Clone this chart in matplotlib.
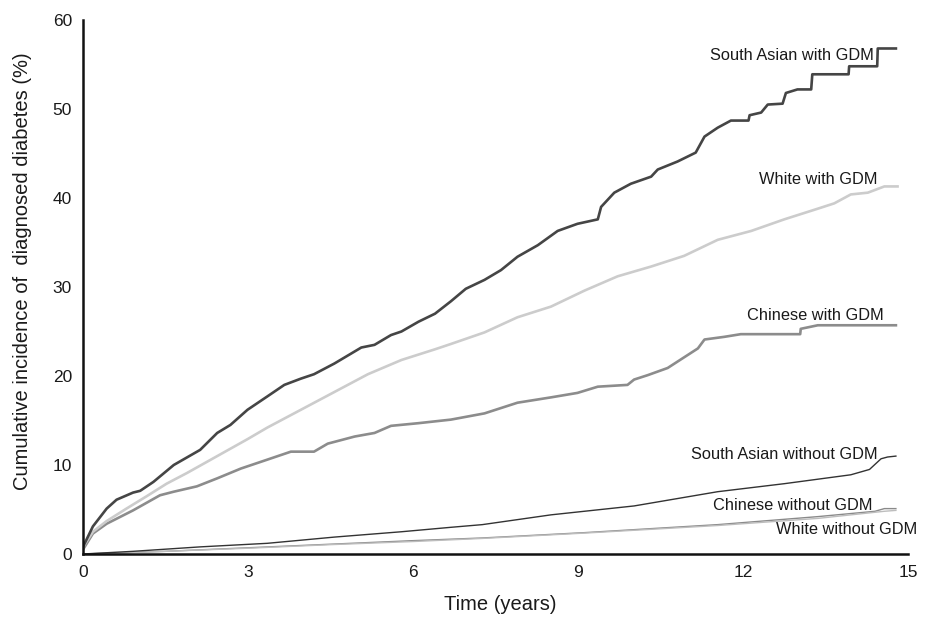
import matplotlib
matplotlib.use("Agg")
import matplotlib.pyplot as plt

plt.rcParams['font.family'] = ['Liberation Sans', 'DejaVu Sans']

# ---- data ----
sa_gdm_t = [0, 0.18, 0.43, 0.61, 0.91, 1.04, 1.28, 1.65, 2.13, 2.44, 2.68, 2.99, 3.35, 3.66, 3.96,
            4.2, 4.57, 5.06, 5.3, 5.6, 5.79, 6.1, 6.4, 6.69, 6.96, 7.3, 7.6, 7.9, 8.27, 8.63, 8.99,
            9.36, 9.42, 9.66, 9.96, 10.33, 10.45, 10.81, 11.14, 11.3, 11.54, 11.78, 12.1, 12.12, 12.33,
            12.45, 12.72, 12.78, 12.99, 13.24, 13.26, 13.92, 13.93, 14.44, 14.45, 14.78]
sa_gdm_v = [0.8, 3.1, 5.1, 6.1, 6.9, 7.1, 8.1, 10.0, 11.7, 13.6, 14.5, 16.2, 17.7, 19.0, 19.7,
            20.2, 21.4, 23.2, 23.5, 24.6, 25.0, 26.1, 27.0, 28.4, 29.8, 30.8, 31.9, 33.4, 34.7, 36.3, 37.1,
            37.6, 39.0, 40.6, 41.6, 42.4, 43.2, 44.1, 45.1, 46.9, 47.9, 48.7, 48.7, 49.3, 49.6,
            50.5, 50.6, 51.8, 52.2, 52.2, 53.9, 53.9, 54.8, 54.8, 56.8, 56.8]

wh_gdm_t = [0, 0.18, 0.43, 0.79, 1.16, 1.52, 1.89, 2.44, 2.99, 3.35, 3.96, 4.57, 5.18, 5.79, 6.4,
            6.69, 7.3, 7.9, 8.51, 9.12, 9.72, 10.33, 10.93, 11.54, 12.15, 12.75, 13.36, 13.66, 13.96,
            14.27, 14.57, 14.81]
wh_gdm_v = [0.8, 2.5, 3.7, 5.1, 6.5, 7.9, 9.1, 11.0, 12.9, 14.2, 16.2, 18.2, 20.2, 21.8, 23.0,
            23.6, 24.9, 26.6, 27.8, 29.6, 31.2, 32.3, 33.5, 35.3, 36.3, 37.6, 38.8, 39.4, 40.4,
            40.6, 41.3, 41.3]

ch_gdm_t = [0, 0.18, 0.43, 0.91, 1.4, 1.65, 2.07, 2.44, 2.87, 3.35, 3.78, 4.2, 4.45, 4.94, 5.3,
            5.6, 6.1, 6.69, 7.3, 7.9, 8.51, 8.99, 9.36, 9.9, 10.02, 10.27, 10.63, 10.93, 11.18,
            11.3, 11.66, 11.96, 13.04, 13.05, 13.36, 14.78]
ch_gdm_v = [0.5, 2.3, 3.4, 4.9, 6.6, 7.0, 7.6, 8.5, 9.6, 10.6, 11.5, 11.5, 12.4, 13.2, 13.6,
            14.4, 14.7, 15.1, 15.8, 17.0, 17.6, 18.1, 18.8, 19.0, 19.6, 20.1, 20.9, 22.1, 23.1,
            24.1, 24.4, 24.7, 24.7, 25.3, 25.7, 25.7]

sa_no_t = [0, 0.91, 2.13, 3.35, 4.57, 5.79, 6.69, 7.26, 8.51, 10.02, 11.54, 12.75, 13.96, 14.3,
           14.51, 14.63, 14.78]
sa_no_v = [0, 0.3, 0.8, 1.2, 1.9, 2.5, 3.0, 3.3, 4.4, 5.4, 7.0, 7.9, 8.9, 9.5, 10.7, 10.9, 11.0]

ch_no_t = [0, 1.5, 3.0, 4.5, 6.0, 7.26, 9.12, 11.54, 13.36, 14.4, 14.57, 14.78]
ch_no_v = [0, 0.3, 0.7, 1.1, 1.5, 1.8, 2.4, 3.3, 4.2, 4.8, 5.1, 5.1]

wh_no_t = [0, 1.5, 3.0, 4.5, 6.0, 7.26, 9.12, 11.54, 13.36, 14.57, 14.78]
wh_no_v = [0, 0.3, 0.65, 1.05, 1.4, 1.75, 2.35, 3.2, 4.0, 4.8, 4.9]

labels = ["South Asian with GDM", "White with GDM", "Chinese with GDM",
          "South Asian without GDM", "Chinese without GDM", "White without GDM"]
label_t = [14.38, 14.44, 14.56, 14.44, 14.36, 15.17]
label_v = [56.0, 42.1, 26.75, 11.2, 5.5, 2.8]

x_ticks = [0, 3, 6, 9, 12, 15]
y_ticks = [0, 10, 20, 30, 40, 50, 60]

# ---- figure ----
fig = plt.figure(figsize=(9.31, 6.19), dpi=100)
ax = fig.add_axes([83 / 931, 65 / 619, 825 / 931, 534 / 619])

ax.plot(ch_no_t, ch_no_v, color='#8a8a8a', lw=1.0)
ax.plot(wh_no_t, wh_no_v, color='#bdbdbd', lw=1.0)
ax.plot(sa_no_t, sa_no_v, color='#333333', lw=1.0)
ax.plot(ch_gdm_t, ch_gdm_v, color='#8c8c8c', lw=1.9)
ax.plot(wh_gdm_t, wh_gdm_v, color='#cccccc', lw=1.9)
ax.plot(sa_gdm_t, sa_gdm_v, color='#454545', lw=1.9)

for s, t, v in zip(labels, label_t, label_v):
    ax.text(t, v, s, ha='right', va='center', fontsize=11.8, color='#1a1a1a', clip_on=False)

ax.set_xlim(0, 15)
ax.set_ylim(0, 60)
ax.set_xticks(x_ticks)
ax.set_yticks(y_ticks)
ax.tick_params(length=0, labelsize=12.5, pad=8, colors='#1a1a1a')
for side in ['top', 'right']:
    ax.spines[side].set_visible(False)
for side in ['left', 'bottom']:
    ax.spines[side].set_linewidth(1.8)
    ax.spines[side].set_color('#111111')

ax.set_xlabel("Time (years)", fontsize=14.5, color='#1a1a1a', va='center')
ax.xaxis.set_label_coords((500 - 83) / 825, (554 - 605) / 534)
ax.set_ylabel("Cumulative incidence of  diagnosed diabetes (%)", fontsize=14.5,
              color='#1a1a1a', va='center')
ax.yaxis.set_label_coords((23 - 83) / 825, (554 - 271) / 534)

fig.savefig("out.png", dpi=100)
